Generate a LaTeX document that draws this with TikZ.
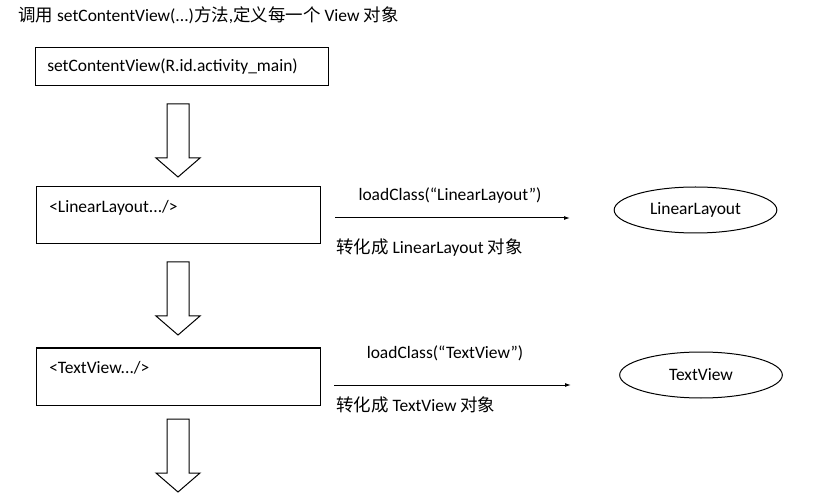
\documentclass[tikz,border=0pt]{standalone}
\usepackage{fontspec}
\setmainfont{Carlito}
\newfontfamily\cjk{Noto Sans CJK SC}
\usetikzlibrary{shapes.geometric,arrows.meta}

\begin{document}
\begin{tikzpicture}[x=0.75pt,y=-0.75pt,font=\fontsize{13.1}{15}\selectfont,
  objbox/.style n args={2}{draw,line width=0.75pt,rectangle,minimum width=#1,minimum height=#2,inner sep=0pt},
  objoval/.style={draw,line width=0.75pt,ellipse,minimum width=122pt,minimum height=34.5pt,inner sep=0pt},
  blockarrow/.style={draw,line width=0.75pt,line join=miter},
  loadline/.style={line width=0.75pt,-{Latex[length=4.5pt,width=3pt]}}]
\useasboundingbox (0,0) rectangle (814,502);
\node[anchor=west,inner sep=0pt] (title) at (18,15) {{\cjk 调用} setContentView(...){\cjk 方法},{\cjk 定义每一个} View {\cjk 对象}};
\node[objbox={219.75pt}{28.5pt}] (setbox) at (181.5,67) {};
\node[anchor=west,inner sep=0pt] (settext) at (47,67) {setContentView(R.id.activity\_main)};
\node[objbox={213pt}{42.75pt}] (linbox) at (178,215.5) {};
\node[anchor=west,inner sep=0pt] (lintext) at (49,208) {<LinearLayout.../>};
\node[objbox={213pt}{42.75pt}] (txtbox) at (178,376.5) {};
\node[anchor=west,inner sep=0pt] (txttext) at (49,368) {<TextView.../>};
% hollow down arrows
\foreach \y in {104,262,419} {
   \draw[blockarrow] (167,\y) -- (189,\y) -- (189,\y+54) -- (200,\y+54)
      -- (178,\y+73) -- (156,\y+54) -- (167,\y+54) -- cycle;
}
% LinearLayout
\coordinate (linfrom) at (335,218);
\coordinate (linto) at (570,218);
\draw[loadline] (linfrom) -- (linto);
\node[inner sep=0pt] (linload) at (450,196) {loadClass(“LinearLayout”)};
\node[anchor=west,inner sep=0pt] (linconv) at (336,248) {{\cjk 转化成} LinearLayout {\cjk 对象}};
\node[objoval] (linobj) at (695.5,210) {LinearLayout};
% TextView
\coordinate (txtfrom) at (334,385);
\coordinate (txtto) at (571,385);
\draw[loadline] (txtfrom) -- (txtto);
\node[inner sep=0pt] (txtload) at (445,353) {loadClass(“TextView”)};
\node[anchor=west,inner sep=0pt] (txtconv) at (336,405) {{\cjk 转化成} TextView {\cjk 对象}};
\node[objoval] (txtobj) at (701,375) {TextView};
\end{tikzpicture}
\end{document}
